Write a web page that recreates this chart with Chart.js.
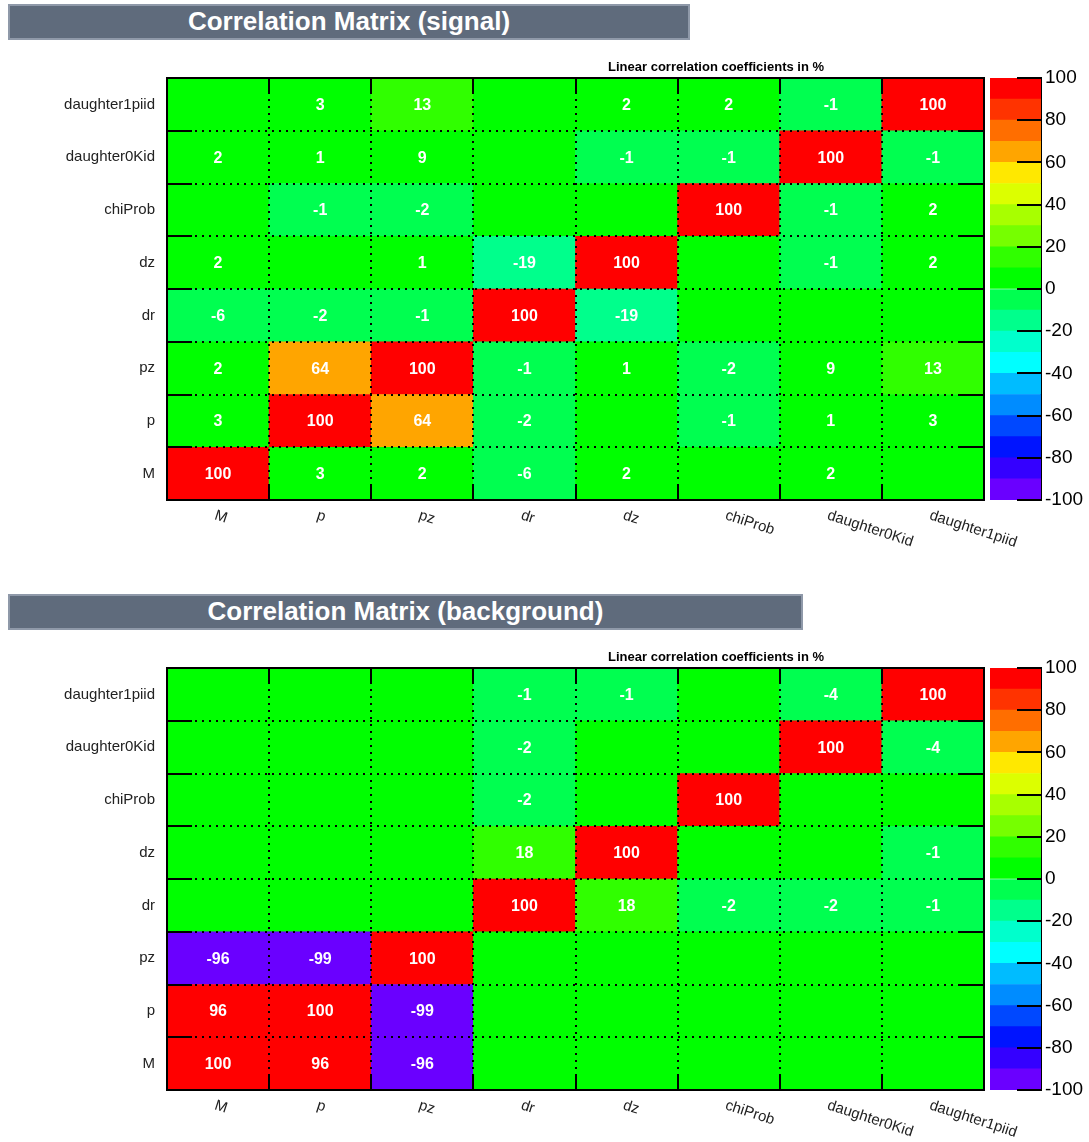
<!DOCTYPE html>
<html>
<head>
<meta charset="utf-8">
<title>Correlation matrices</title>
<script src="https://cdn.jsdelivr.net/npm/chart.js@4.4.0/dist/chart.umd.min.js"></script>
<style>
  html, body { margin: 0; padding: 0; background: #fff; overflow: hidden; }
  body { width: 1089px; height: 1142px; position: relative; font-family: "Liberation Sans", Arial, sans-serif; }
  .panel { position: absolute; left: 0; width: 1089px; height: 590px; }
  .banner {
    position: absolute; left: 8px; top: 4px; height: 36px; box-sizing: border-box;
    background: #5f6b7c; border: 2px solid #8f99a9; color: #fff;
    font: bold 26px "Liberation Sans", Arial, sans-serif; text-align: center; line-height: 31px;
  }
  canvas { position: absolute; }
</style>
</head>
<body>

<div class="panel" style="top:0px">
  <div class="banner" style="width:682px">Correlation Matrix (signal)</div>
  <canvas id="matrixSignal" width="1089" height="510" style="left:0;top:50px"></canvas>
  <canvas id="scaleSignal" width="103" height="510" style="left:986px;top:50px"></canvas>
</div>

<div class="panel" style="top:590px">
  <div class="banner" style="width:795px">Correlation Matrix (background)</div>
  <canvas id="matrixBackground" width="1089" height="510" style="left:0;top:50px"></canvas>
  <canvas id="scaleBackground" width="103" height="510" style="left:986px;top:50px"></canvas>
</div>

<script>
// Input variables (x columns left to right, matrix rows bottom to top)
const varNames = ['M', 'p', 'pz', 'dr', 'dz', 'chiProb', 'daughter0Kid', 'daughter1piid'];
const matrixTitle = 'Linear correlation coefficients in %';

// Signal correlations in %, one row per variable, columns in varNames order
const sigM             = [100,   3,   2,  -6,   2,   0,   2,   0];
const sigP             = [  3, 100,  64,  -2,   0,  -1,   1,   3];
const sigPz            = [  2,  64, 100,  -1,   1,  -2,   9,  13];
const sigDr            = [ -6,  -2,  -1, 100, -19,   0,   0,   0];
const sigDz            = [  2,   0,   1, -19, 100,   0,  -1,   2];
const sigChiProb       = [  0,  -1,  -2,   0,   0, 100,  -1,   2];
const sigDaughter0Kid  = [  2,   1,   9,   0,  -1,  -1, 100,  -1];
const sigDaughter1piid = [  0,   3,  13,   0,   2,   2,  -1, 100];

// Background correlations in %
const bkgM             = [100,  96, -96,   0,   0,   0,   0,   0];
const bkgP             = [ 96, 100, -99,   0,   0,   0,   0,   0];
const bkgPz            = [-96, -99, 100,   0,   0,   0,   0,   0];
const bkgDr            = [  0,   0,   0, 100,  18,  -2,  -2,  -1];
const bkgDz            = [  0,   0,   0,  18, 100,   0,   0,  -1];
const bkgChiProb       = [  0,   0,   0,  -2,   0, 100,   0,   0];
const bkgDaughter0Kid  = [  0,   0,   0,  -2,   0,   0, 100,  -4];
const bkgDaughter1piid = [  0,   0,   0,  -1,  -1,   0,  -4, 100];

// Colour scale: 20 bands of 10 %, from -100 upwards
const bandLows = [-100, -90, -80, -70, -60, -50, -40, -30, -20, -10, 0, 10, 20, 30, 40, 50, 60, 70, 80, 90];
const bandColours = [
  '#6a00ff', '#3400ff', '#0014ff', '#0048ff', '#008cff',
  '#00bcff', '#00ffff', '#00ffcc', '#00ff8c', '#00ff50',
  '#00ff00', '#30ff00', '#76ff00', '#a8ff00', '#dcff00',
  '#ffe800', '#ffa500', '#ff6e00', '#ff3300', '#ff0000'
];

const FONT = '"Liberation Sans", Arial, sans-serif';

function colourFor(v) {
  let k = Math.floor((v + 100) / 10);
  if (k < 0) k = 0;
  if (k > bandColours.length - 1) k = bandColours.length - 1;
  return bandColours[k];
}

const snap = v => Math.round(v);

// Cell values, frame, inner tick marks, slanted column labels and heading
const matrixPainter = {
  id: 'matrixPainter',
  afterDraw(chart) {
    const { ctx, chartArea: a, scales } = chart;
    const xs = scales.x, ys = scales.y;
    ctx.save();

    ctx.font = 'bold 16px ' + FONT;
    ctx.fillStyle = '#fff';
    ctx.textAlign = 'center';
    ctx.textBaseline = 'middle';
    chart.data.datasets.forEach((ds, di) => {
      chart.getDatasetMeta(di).data.forEach((bar, ci) => {
        const v = ds.cellValues[ci];
        if (v !== 0) {
          const c = bar.getCenterPoint();
          ctx.fillText(String(v), c.x, c.y + 1);
        }
      });
    });

    ctx.strokeStyle = '#000';
    ctx.lineWidth = 2;
    ctx.beginPath();
    for (let i = 0; i < xs.ticks.length - 1; i++) {
      const x = snap((xs.getPixelForTick(i) + xs.getPixelForTick(i + 1)) / 2);
      ctx.moveTo(x, a.bottom); ctx.lineTo(x, a.bottom - 14);
      ctx.moveTo(x, a.top); ctx.lineTo(x, a.top + 14);
    }
    for (let i = 0; i < ys.ticks.length - 1; i++) {
      const y = snap((ys.getPixelForTick(i) + ys.getPixelForTick(i + 1)) / 2);
      ctx.moveTo(a.left, y); ctx.lineTo(a.left + 25, y);
      ctx.moveTo(a.right, y); ctx.lineTo(a.right - 25, y);
    }
    ctx.stroke();
    ctx.strokeRect(snap(a.left), snap(a.top), snap(a.right) - snap(a.left), snap(a.bottom) - snap(a.top));

    ctx.font = '15px ' + FONT;
    ctx.fillStyle = '#222';
    ctx.textAlign = 'left';
    ctx.textBaseline = 'middle';
    xs.ticks.forEach((t, i) => {
      ctx.save();
      ctx.translate(xs.getPixelForTick(i) - 3, a.bottom + 15);
      ctx.rotate(18 * Math.PI / 180);
      ctx.fillText(xs.getLabelForValue(t.value), 0, 0);
      ctx.restore();
    });

    ctx.font = 'bold 13px ' + FONT;
    ctx.fillStyle = '#000';
    ctx.textAlign = 'center';
    ctx.fillText(matrixTitle, a.left + (a.right - a.left) * 0.672, a.top - 11);
    ctx.restore();
  }
};

function drawMatrix(canvasId, rows) {
  const datasets = rows.map((vals, r) => ({
    label: varNames[r],
    data: vals.map(() => [r - 0.5, r + 0.5]),
    cellValues: vals,
    backgroundColor: c => colourFor(c.dataset.cellValues[c.dataIndex]),
    xAxisID: 'x',
    yAxisID: 'yv'
  }));
  const gridLines = () => ({ offset: true, color: '#000', lineWidth: 2, drawTicks: false, z: 1 });
  return new Chart(document.getElementById(canvasId), {
    type: 'bar',
    data: { labels: varNames, datasets },
    options: {
      responsive: false,
      animation: false,
      events: [],
      layout: { padding: { top: 28, right: 105, left: 0, bottom: 0 } },
      plugins: { legend: { display: false }, tooltip: { enabled: false }, title: { display: false } },
      datasets: { bar: { grouped: false, barPercentage: 1, categoryPercentage: 1, borderWidth: 0 } },
      scales: {
        x: {
          type: 'category', labels: varNames, offset: true,
          grid: gridLines(), border: { display: false, dash: [2, 5] },
          ticks: { display: false },
          afterFit: s => { s.height = 60; }
        },
        yv: { type: 'linear', display: false, min: -0.5, max: 7.5 },
        y: {
          // category axes run top-down, so the names are listed top row first
          type: 'category', labels: varNames.slice().reverse(), offset: true, position: 'left',
          bounds: 'ticks',
          grid: gridLines(), border: { display: false, dash: [2, 5] },
          ticks: { font: { size: 15, family: FONT }, color: '#222', padding: 12 },
          afterFit: s => { s.width = 167; }
        }
      }
    },
    plugins: [matrixPainter]
  });
}

// Inward tick marks on the colour scale
const scaleTicks = {
  id: 'scaleTicks',
  afterDraw(chart) {
    const { ctx, chartArea: a, scales } = chart;
    const ys = scales.y;
    ctx.save();
    ctx.strokeStyle = '#000';
    ctx.lineWidth = 2;
    ctx.beginPath();
    ys.ticks.forEach(t => {
      const y = snap(ys.getPixelForValue(t.value));
      ctx.moveTo(a.right, y); ctx.lineTo(a.right - 24, y);
    });
    ctx.stroke();
    ctx.restore();
  }
};

function drawScale(canvasId) {
  const datasets = bandLows.map((lo, i) => ({
    data: [[lo, lo + 10]],
    backgroundColor: bandColours[i]
  }));
  return new Chart(document.getElementById(canvasId), {
    type: 'bar',
    data: { labels: [''], datasets },
    options: {
      responsive: false,
      animation: false,
      events: [],
      layout: { padding: { top: 28, right: 0, left: 4, bottom: 60 } },
      plugins: { legend: { display: false }, tooltip: { enabled: false } },
      datasets: { bar: { grouped: false, barPercentage: 1, categoryPercentage: 1, borderWidth: 0 } },
      scales: {
        x: { type: 'category', display: false },
        y: {
          type: 'linear', position: 'right', min: -100, max: 100,
          ticks: { stepSize: 20, font: { size: 19, family: FONT }, color: '#000', padding: 4 },
          grid: { drawOnChartArea: false, drawTicks: false },
          border: { display: true, color: '#000', width: 2 },
          afterFit: s => { s.width = 48; }
        }
      }
    },
    plugins: [scaleTicks]
  });
}

drawMatrix('matrixSignal', [sigM, sigP, sigPz, sigDr, sigDz, sigChiProb, sigDaughter0Kid, sigDaughter1piid]);
drawScale('scaleSignal');
drawMatrix('matrixBackground', [bkgM, bkgP, bkgPz, bkgDr, bkgDz, bkgChiProb, bkgDaughter0Kid, bkgDaughter1piid]);
drawScale('scaleBackground');
</script>
</body>
</html>
